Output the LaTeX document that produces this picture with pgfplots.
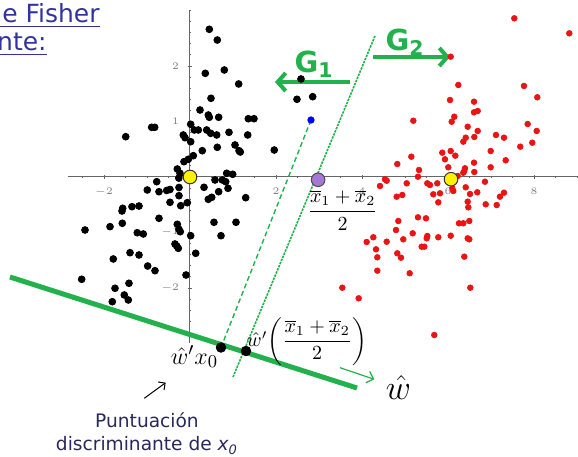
\documentclass[border=0pt]{standalone}
\usepackage{pgfplots}
\pgfplotsset{compat=1.18}
\usepackage{amsmath}
\usepackage{fontspec}
\usetikzlibrary{arrows.meta}
\newfontfamily\dejavu{DejaVu Sans}
\definecolor{gr}{RGB}{34,177,76}
\definecolor{ttl}{RGB}{51,51,160}
\definecolor{navy}{RGB}{40,40,90}
\definecolor{purp}{RGB}{165,120,215}
\definecolor{rd}{RGB}{235,20,20}
\begin{document}
\begin{tikzpicture}
\begin{axis}[
  x=21.5pt, y=27.75pt,
  xmin=-2.84, xmax=9.02, ymin=-2.99, ymax=3.01,
  axis lines=middle,
  axis line style={-, draw=black!60, line width=0.5pt},
  clip=false,
  xtick={-2,2,4,6,8}, ytick={-2,-1,1,2},
  minor xtick={-2.5,-2,...,9},
  minor ytick={-2.8,-2.6,...,3},
  major tick length=2pt, minor tick length=1.2pt,
  tick style={draw=black!60, line width=0.4pt},
  tick label style={font=\fontsize{4}{4}\selectfont, text=black!50},
  xticklabel style={yshift=-1pt},
  yticklabel style={xshift=-1pt},
]
% bounding corners
\coordinate (BL) at (axis cs:-4.4186,-5.0450);
\coordinate (TR) at (axis cs:9.0233,3.1892);

% black group
\addplot[only marks, mark=*, mark size=1.7pt, black] table {
0.449 2.661
0.635 2.468
0.356 1.868
0.798 1.928
1.133 1.676
0.488 1.418
0.233 1.207
0.426 1.117
0.449 1.076
0.667 1.076
1.356 1.050
1.488 1.050
0.016 0.950
-0.891 0.895
-0.821 0.895
-1.495 0.726
-0.156 0.757
-0.116 0.708
0.100 0.847
0.193 0.847
0.388 0.847
0.481 0.787
0.621 0.757
0.907 0.805
1.342 0.757
1.960 0.486
0.016 0.636
0.635 0.535
1.047 0.577
1.140 0.474
1.170 0.450
0.286 0.474
0.077 0.384
-0.040 0.319
-0.140 0.276
-0.295 0.144
-0.233 0.067
0.853 0.067
0.993 0.049
0.581 -0.054
0.751 -0.054
0.830 -0.085
-0.774 -0.085
-0.993 -0.234
-0.721 -0.265
-0.542 -0.243
-0.465 -0.225
-0.256 -0.189
0.326 -0.186
0.667 -0.265
0.884 -0.204
-0.256 -0.337
0.426 -0.402
0.505 -0.366
1.295 -0.373
-0.465 -0.456
-0.216 -0.517
-0.063 -0.463
-1.565 -0.564
-1.581 -0.613
-1.349 -0.535
-1.186 -0.523
-0.721 -0.744
-1.574 -0.834
-1.860 -0.895
-2.442 -0.955
-0.295 -0.852
-0.256 -0.942
-0.226 -0.986
0.558 -0.816
1.070 -0.816
-1.226 -1.004
-1.086 -1.027
0.016 -1.058
0.721 -1.058
-0.349 -1.207
-0.309 -1.243
-0.272 -1.285
-1.395 -1.364
-1.186 -1.405
0.133 -1.375
-1.784 -1.477
-0.984 -1.604
-0.814 -1.688
-0.093 -1.766
-2.519 -1.843
-1.419 -1.915
-1.744 -2.005
-1.528 -2.126
-1.435 -2.216
-1.807 -2.247
2.581 1.766
2.488 1.400
2.853 1.447
-0.26 -0.02
};

% red group
\addplot[only marks, mark=*, mark size=1.4pt, rd] table {
7.542 2.859
8.821 2.589
6.063 2.168
6.240 1.658
7.767 1.640
8.077 1.436
6.047 1.387
6.605 1.357
6.605 1.166
6.691 1.189
5.193 1.014
6.147 1.086
6.086 0.996
6.458 0.906
7.853 0.955
8.063 0.829
6.691 0.829
7.116 0.757
7.302 0.708
6.412 0.708
6.356 0.636
6.612 0.721
7.960 0.618
7.681 0.546
5.867 0.438
6.063 0.468
6.170 0.384
6.993 0.468
5.147 0.366
5.930 0.319
7.342 0.301
4.821 0.234
6.605 0.258
6.007 0.175
6.395 0.157
6.379 0.108
6.356 0.077
6.993 0.175
5.326 0.126
5.302 0.005
6.612 0.090
4.535 -0.041
4.574 -0.067
4.419 -0.162
5.040 -0.114
5.519 -0.114
5.581 -0.144
5.751 -0.114
6.226 0.018
6.100 -0.204
6.123 -0.252
6.412 -0.186
6.860 -0.085
5.658 -0.312
5.814 -0.294
6.512 -0.306
6.681 -0.276
4.807 -0.355
4.937 -0.324
5.774 -0.456
6.458 -0.445
6.472 -0.546
6.877 -0.492
7.133 -0.505
7.209 -0.355
7.302 -0.283
5.302 -0.726
5.488 -0.744
4.844 -0.793
6.256 -0.834
6.356 -0.834
6.495 -0.793
4.791 -0.955
4.263 -1.086
4.109 -1.171
5.179 -1.014
4.574 -1.166
4.960 -1.123
5.519 -1.063
5.505 -1.105
5.774 -1.086
6.063 -1.058
6.458 -1.105
6.495 -1.123
5.388 -1.256
5.449 -1.256
4.326 -1.303
4.356 -1.447
4.821 -1.375
4.907 -1.454
6.379 -1.436
4.356 -1.688
5.109 -1.735
3.542 -1.995
3.923 -2.186
6.519 -1.995
5.681 -2.847
};

% projection direction (thick)
\addplot[gr, line width=2.5pt] coordinates {(-4.186,-1.802) (3.884,-3.802)};
% separating line
\addplot[gr, line width=0.8pt, dash pattern=on 1.2pt off 0.5pt] coordinates {(4.302,2.541) (1.0,-3.604)};
% projection of x0
\addplot[gr, line width=0.7pt, dash pattern=on 2.5pt off 1.5pt] coordinates {(2.814,1.027) (0.721,-3.072)};
% w hat arrow
\addplot[gr, line width=0.6pt, -{Straight Barb[length=3pt,width=6pt]}] coordinates {(3.488,-3.436) (4.286,-3.645)};
% G arrows
\addplot[gr, line width=2pt, -{Straight Barb[length=4pt,width=9pt]}] coordinates {(3.721,1.712) (1.977,1.712)};
\addplot[gr, line width=2pt, -{Straight Barb[length=4pt,width=9pt]}] coordinates {(4.256,2.162) (6.047,2.162)};
% black pointer arrow
\addplot[black, line width=0.5pt, -{Straight Barb[length=2.5pt,width=5pt]}] coordinates {(-1.063,-3.987) (-0.565,-3.706)};

% means
\addplot[only marks, mark=*, mark size=3.4pt, fill=yellow, draw=black!80, line width=0.5pt] coordinates {(0,0) (6.07,-0.04)};
\addplot[only marks, mark=*, mark size=3.4pt, fill=purp, draw=black!70, line width=0.5pt] coordinates {(2.98,-0.05)};
\addplot[only marks, mark=*, mark size=1.6pt, blue] coordinates {(2.814,1.027)};
\addplot[only marks, mark=*, mark size=2.4pt, black] coordinates {(0.721,-3.072) (1.302,-3.135)};

% labels
\node[font=\fontsize{9.6}{12}\selectfont] at (axis cs:3.55,-0.60) {$\dfrac{\overline{x}_1+\overline{x}_2}{2}$};
\node[font=\fontsize{9.6}{12}\selectfont] at (axis cs:2.72,-2.96) {$\hat{w}'\!\left(\dfrac{\overline{x}_1+\overline{x}_2}{2}\right)$};
\node[font=\fontsize{13}{15}\selectfont] at (axis cs:0.105,-3.24) {$\hat{w}'x_0$};
\node[font=\fontsize{16}{18}\selectfont] at (axis cs:4.849,-3.80) {$\hat{w}$};
\node[font=\dejavu\bfseries\fontsize{14.5}{16}\selectfont, text=gr] at (axis cs:2.884,2.036) {G\textsubscript{1}};
\node[font=\dejavu\bfseries\fontsize{14.5}{16}\selectfont, text=gr] at (axis cs:5.0,2.432) {G\textsubscript{2}};
\node[anchor=base, font=\dejavu\fontsize{9.3}{11}\selectfont, text=navy] at (axis cs:-1.0,-4.505) {Puntuación};
\node[anchor=base, font=\dejavu\fontsize{9.3}{11}\selectfont, text=navy] at (axis cs:-1.0,-4.937) {discriminante de {\itshape x\textsubscript{0}}};
\node[anchor=base east, inner sep=0pt, font=\dejavu\fontsize{12.5}{14}\selectfont, text=ttl] at (axis cs:-2.093,2.78) {\underline{Análisis discriminante de Fisher}};
\node[anchor=base east, inner sep=0pt, font=\dejavu\fontsize{12.5}{14}\selectfont, text=ttl] at (axis cs:-3.326,2.276) {\underline{Puntuación discriminante:}};
\end{axis}
\pgfresetboundingbox
\path (BL) rectangle (TR);
\end{tikzpicture}
\end{document}
